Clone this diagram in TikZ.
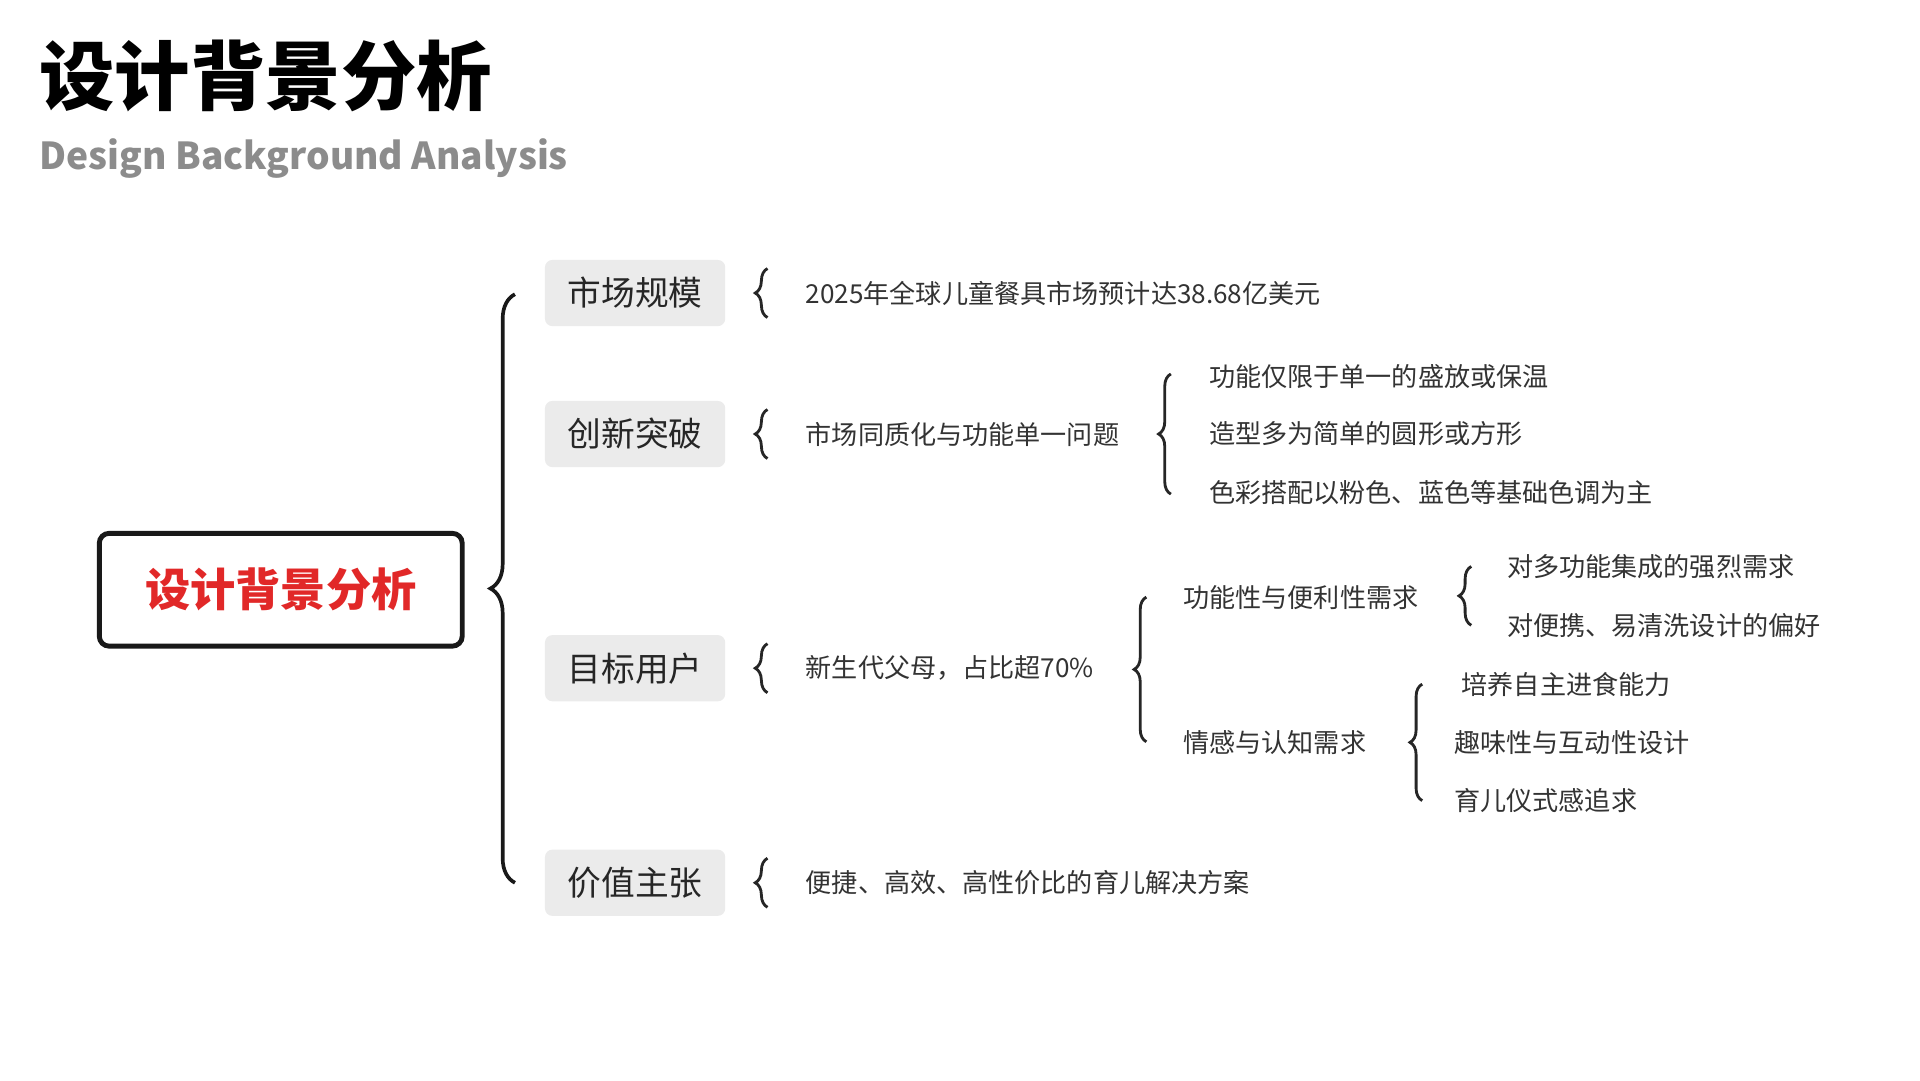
\documentclass[tikz,border=0pt]{standalone}
\usepackage{fontspec}
\setmainfont{Noto Sans CJK SC}
\usetikzlibrary{decorations.pathreplacing}
\begin{document}
\begin{tikzpicture}[x=1pt,y=-1pt,
  cat/.style={fill=black!8,rounded corners=6pt,minimum width=147pt,minimum height=54pt,font=\fontsize{27.5}{29}\selectfont,text=black!85},
  txt/.style={anchor=west,font=\fontsize{21.3}{23}\selectfont,text=black!80,inner sep=0pt},
  br/.style={decorate,decoration={brace,amplitude=10pt,aspect=0.5},line width=2.3pt,draw=black!85},
  bigbr/.style={decorate,decoration={brace,amplitude=20pt,aspect=0.5},line width=3pt,draw=black!90}]
\useasboundingbox (0,0) rectangle (1566,881);
\node[anchor=west,inner sep=0pt,font=\fontsize{61.5}{63}\selectfont\bfseries] (title) at (32,62) {设计背景分析};
\node[anchor=west,inner sep=0pt,font=\fontsize{30.3}{32}\selectfont\bfseries,text=black!45] (sub) at (32,129) {Design Background Analysis};
\node[draw=black!90,line width=4pt,rounded corners=8pt,minimum width=296pt,minimum height=92pt,font=\fontsize{36.9}{38}\selectfont\bfseries,text={rgb,255:red,225;green,40;blue,40}] (root) at (229,481) {设计背景分析};
\node[cat] (c1) at (518,239) {市场规模};
\node[cat] (c2) at (518,354) {创新突破};
\node[cat] (c3) at (518,545) {目标用户};
\node[cat] (c4) at (518,720) {价值主张};
\coordinate (b0t) at (420,240); \coordinate (b0b) at (420,720);
\draw[bigbr] (b0b) -- (b0t);
\node[txt] (t1) at (657,239) {2025年全球儿童餐具市场预计达38.68亿美元};
\node[txt] (t2) at (657,354) {市场同质化与功能单一问题};
\node[txt] (t3) at (657,545) {新生代父母，占比超70\%};
\node[txt] (t4) at (657,720) {便捷、高效、高性价比的育儿解决方案};
\foreach \y/\n in {239/1,354/2,545/3,720/4}{
  \coordinate (s\n t) at (626,\y-20); \coordinate (s\n b) at (626,\y+20);
  \draw[br] (s\n b) -- (s\n t);}
\node[txt] (u1) at (986,307) {功能仅限于单一的盛放或保温};
\node[txt] (u2) at (986,354) {造型多为简单的圆形或方形};
\node[txt] (u3) at (986,402) {色彩搭配以粉色、蓝色等基础色调为主};
\draw[br] (955,403) -- (955,305);
\node[txt] (v1) at (965,487) {功能性与便利性需求};
\node[txt] (v2) at (965,606) {情感与认知需求};
\draw[br] (935,605) -- (935,487);
\node[txt] (w1) at (1229,462) {对多功能集成的强烈需求};
\node[txt] (w2) at (1229,510) {对便携、易清洗设计的偏好};
\draw[br] (1200,510) -- (1200,462);
\node[txt] (x1) at (1192,558) {培养自主进食能力};
\node[txt] (x2) at (1186,606) {趣味性与互动性设计};
\node[txt] (x3) at (1186,653) {育儿仪式感追求};
\draw[br] (1160,653) -- (1160,558);
\end{tikzpicture}
\end{document}
